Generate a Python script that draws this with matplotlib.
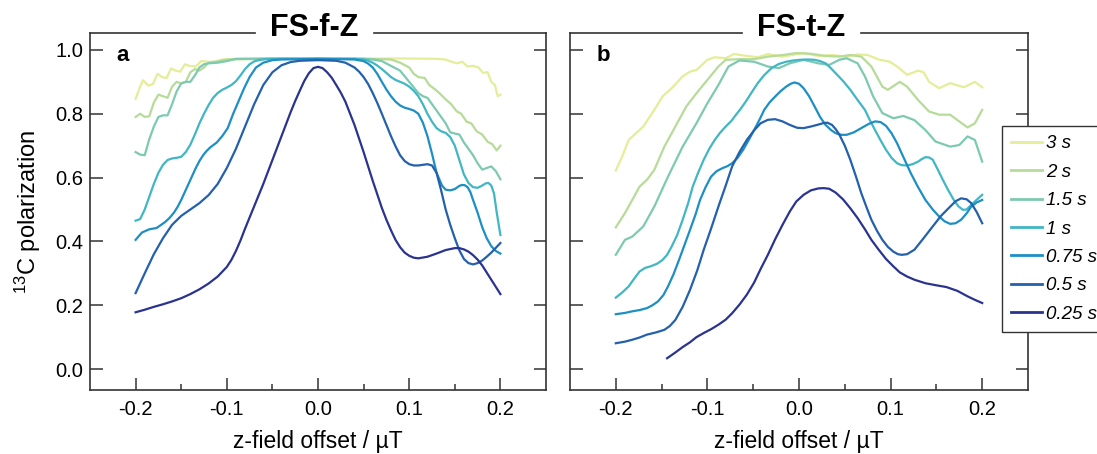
import matplotlib
matplotlib.use("Agg")
import matplotlib.pyplot as plt
from matplotlib.ticker import FixedLocator

plt.rcParams['font.family'] = ['Liberation Sans', 'DejaVu Sans']
plt.rcParams['mathtext.fontset'] = 'custom'
plt.rcParams['mathtext.rm'] = 'Liberation Sans'
plt.rcParams['mathtext.it'] = 'Liberation Sans:italic'
plt.rcParams['mathtext.bf'] = 'Liberation Sans:bold'

# ---------------- data ----------------
labels = ['3 s', '2 s', '1.5 s', '1 s', '0.75 s', '0.5 s', '0.25 s']
colors = ['#e5ed98', '#b7db98', '#7dcab0', '#41b6c4', '#1d8fc4', '#2460ab', '#2a348e']

# panel a : FS-f-Z
a_3s_x = [-0.2, -0.195, -0.192, -0.186, -0.181, -0.176, -0.171, -0.166, -0.161, -0.156, -0.151, -0.146, -0.141, -0.134, -0.128, -0.12, -0.112, -0.105, -0.09, -0.05, 0.0, 0.05, 0.1, 0.13, 0.14, 0.147, 0.153, 0.158, 0.164, 0.17, 0.176, 0.181, 0.186, 0.19, 0.194, 0.197, 0.2]
a_3s_y = [0.847, 0.885, 0.905, 0.888, 0.893, 0.925, 0.915, 0.912, 0.942, 0.935, 0.932, 0.955, 0.95, 0.948, 0.965, 0.963, 0.962, 0.97, 0.972, 0.973, 0.973, 0.973, 0.973, 0.972, 0.97, 0.962, 0.958, 0.963, 0.948, 0.95, 0.945, 0.928, 0.93, 0.9, 0.89, 0.855, 0.86]

a_2s_x = [-0.2, -0.195, -0.19, -0.185, -0.18, -0.175, -0.17, -0.165, -0.16, -0.155, -0.15, -0.145, -0.14, -0.135, -0.13, -0.125, -0.12, -0.11, -0.1, -0.05, 0.0, 0.05, 0.08, 0.09, 0.1, 0.105, 0.11, 0.117, 0.122, 0.129, 0.134, 0.14, 0.146, 0.152, 0.157, 0.163, 0.168, 0.174, 0.18, 0.186, 0.191, 0.196, 0.2]
a_2s_y = [0.79, 0.80, 0.79, 0.792, 0.835, 0.86, 0.855, 0.85, 0.885, 0.9, 0.895, 0.9, 0.93, 0.94, 0.935, 0.945, 0.96, 0.965, 0.97, 0.972, 0.973, 0.972, 0.97, 0.96, 0.945, 0.925, 0.915, 0.912, 0.89, 0.875, 0.862, 0.845, 0.83, 0.808, 0.8, 0.775, 0.77, 0.745, 0.735, 0.712, 0.705, 0.685, 0.70]

a_15s_x = [-0.2, -0.195, -0.19, -0.185, -0.18, -0.175, -0.17, -0.165, -0.16, -0.155, -0.15, -0.145, -0.14, -0.135, -0.13, -0.125, -0.12, -0.11, -0.1, -0.09, -0.05, 0.0, 0.05, 0.06, 0.07, 0.08, 0.09, 0.1, 0.11, 0.115, 0.12, 0.13, 0.14, 0.145, 0.15, 0.155, 0.16, 0.165, 0.17, 0.175, 0.18, 0.185, 0.19, 0.195, 0.2]
a_15s_y = [0.68, 0.672, 0.67, 0.72, 0.76, 0.79, 0.795, 0.795, 0.83, 0.87, 0.895, 0.9, 0.9, 0.92, 0.945, 0.955, 0.958, 0.96, 0.965, 0.972, 0.973, 0.973, 0.972, 0.97, 0.965, 0.95, 0.935, 0.9, 0.865, 0.855, 0.85, 0.81, 0.77, 0.742, 0.738, 0.735, 0.71, 0.69, 0.67, 0.645, 0.625, 0.63, 0.635, 0.62, 0.595]

a_1s_x = [-0.2, -0.195, -0.19, -0.185, -0.18, -0.175, -0.17, -0.165, -0.16, -0.155, -0.15, -0.145, -0.14, -0.135, -0.13, -0.125, -0.12, -0.115, -0.11, -0.105, -0.1, -0.095, -0.09, -0.085, -0.08, -0.075, -0.07, -0.065, -0.058, -0.05, 0.0, 0.04, 0.05, 0.055, 0.06, 0.065, 0.07, 0.075, 0.08, 0.085, 0.09, 0.095, 0.1, 0.105, 0.11, 0.115, 0.12, 0.125, 0.13, 0.135, 0.14, 0.145, 0.15, 0.155, 0.16, 0.165, 0.17, 0.175, 0.18, 0.184, 0.187, 0.19, 0.193, 0.196, 0.2]
a_1s_y = [0.465, 0.47, 0.5, 0.54, 0.58, 0.615, 0.64, 0.655, 0.66, 0.662, 0.665, 0.68, 0.703, 0.735, 0.77, 0.8, 0.827, 0.85, 0.865, 0.875, 0.882, 0.89, 0.902, 0.92, 0.94, 0.955, 0.964, 0.968, 0.971, 0.972, 0.972, 0.972, 0.97, 0.966, 0.96, 0.951, 0.94, 0.928, 0.915, 0.906, 0.9, 0.894, 0.885, 0.872, 0.855, 0.83, 0.8, 0.775, 0.755, 0.745, 0.74, 0.727, 0.7, 0.655, 0.61, 0.583, 0.57, 0.568, 0.575, 0.582, 0.583, 0.575, 0.55, 0.49, 0.42]

a_075s_x = [-0.2, -0.193, -0.185, -0.177, -0.168, -0.163, -0.158, -0.154, -0.15, -0.146, -0.142, -0.138, -0.134, -0.13, -0.126, -0.122, -0.118, -0.111, -0.105, -0.099, -0.093, -0.087, -0.081, -0.075, -0.068, -0.06, -0.05, -0.04, 0.0, 0.04, 0.05, 0.055, 0.06, 0.065, 0.07, 0.075, 0.08, 0.085, 0.09, 0.095, 0.1, 0.105, 0.11, 0.115, 0.12, 0.125, 0.13, 0.136, 0.14, 0.145, 0.15, 0.155, 0.158, 0.161, 0.164, 0.167, 0.17, 0.175, 0.18, 0.185, 0.19, 0.195, 0.2]
a_075s_y = [0.405, 0.428, 0.438, 0.442, 0.46, 0.473, 0.49, 0.508, 0.53, 0.555, 0.58, 0.605, 0.63, 0.652, 0.67, 0.684, 0.695, 0.71, 0.73, 0.755, 0.8, 0.84, 0.88, 0.915, 0.945, 0.96, 0.968, 0.97, 0.972, 0.97, 0.965, 0.957, 0.945, 0.925, 0.9, 0.876, 0.855, 0.838, 0.826, 0.819, 0.815, 0.81, 0.8, 0.772, 0.73, 0.675, 0.615, 0.575, 0.562, 0.56, 0.564, 0.574, 0.577, 0.576, 0.57, 0.555, 0.53, 0.49, 0.445, 0.41, 0.385, 0.37, 0.362]

a_05s_x = [-0.2, -0.19, -0.18, -0.17, -0.16, -0.15, -0.14, -0.13, -0.12, -0.11, -0.1, -0.09, -0.08, -0.07, -0.06, -0.05, -0.04, -0.03, -0.02, 0.0, 0.02, 0.03, 0.04, 0.045, 0.05, 0.055, 0.06, 0.065, 0.07, 0.075, 0.08, 0.085, 0.09, 0.095, 0.1, 0.105, 0.11, 0.115, 0.12, 0.125, 0.13, 0.135, 0.14, 0.145, 0.15, 0.155, 0.16, 0.165, 0.17, 0.175, 0.18, 0.185, 0.19, 0.195, 0.2]
a_05s_y = [0.238, 0.3, 0.36, 0.41, 0.452, 0.48, 0.5, 0.52, 0.545, 0.58, 0.63, 0.69, 0.76, 0.83, 0.89, 0.93, 0.952, 0.962, 0.966, 0.968, 0.966, 0.96, 0.945, 0.932, 0.915, 0.893, 0.865, 0.834, 0.8, 0.765, 0.73, 0.698, 0.67, 0.652, 0.642, 0.638, 0.638, 0.64, 0.642, 0.638, 0.615, 0.56, 0.5, 0.452, 0.41, 0.372, 0.345, 0.332, 0.328, 0.332, 0.34, 0.352, 0.365, 0.38, 0.395]

a_025s_x = [-0.2, -0.19, -0.18, -0.17, -0.16, -0.15, -0.14, -0.13, -0.12, -0.11, -0.1, -0.095, -0.09, -0.085, -0.08, -0.07, -0.06, -0.05, -0.04, -0.03, -0.025, -0.02, -0.015, -0.01, -0.005, 0.0, 0.005, 0.01, 0.015, 0.02, 0.025, 0.03, 0.04, 0.05, 0.06, 0.07, 0.075, 0.08, 0.085, 0.09, 0.095, 0.1, 0.105, 0.11, 0.12, 0.13, 0.14, 0.15, 0.155, 0.16, 0.165, 0.17, 0.175, 0.18, 0.19, 0.2]
a_025s_y = [0.178, 0.186, 0.195, 0.203, 0.212, 0.222, 0.235, 0.25, 0.268, 0.29, 0.32, 0.342, 0.37, 0.403, 0.44, 0.51, 0.58, 0.655, 0.73, 0.805, 0.84, 0.872, 0.903, 0.927, 0.943, 0.947, 0.943, 0.93, 0.913, 0.89, 0.866, 0.838, 0.765, 0.68, 0.59, 0.505, 0.468, 0.435, 0.405, 0.382, 0.365, 0.355, 0.349, 0.347, 0.352, 0.362, 0.373, 0.379, 0.379, 0.375, 0.368, 0.357, 0.343, 0.325, 0.28, 0.235]

# panel b : FS-t-Z
b_3s_x = [-0.2, -0.193, -0.186, -0.178, -0.17, -0.158, -0.149, -0.139, -0.127, -0.119, -0.112, -0.1, -0.092, -0.08, -0.071, -0.059, -0.045, -0.034, -0.018, 0.005, 0.021, 0.036, 0.052, 0.064, 0.075, 0.087, 0.099, 0.107, 0.118, 0.13, 0.136, 0.142, 0.153, 0.165, 0.18, 0.192, 0.2]
b_3s_y = [0.622, 0.666, 0.718, 0.739, 0.76, 0.812, 0.854, 0.88, 0.917, 0.932, 0.937, 0.969, 0.977, 0.974, 0.987, 0.982, 0.977, 0.987, 0.979, 0.99, 0.981, 0.984, 0.979, 0.986, 0.984, 0.97, 0.963, 0.948, 0.922, 0.935, 0.93, 0.9, 0.88, 0.896, 0.883, 0.9, 0.883]

b_2s_x = [-0.2, -0.19, -0.182, -0.174, -0.166, -0.158, -0.147, -0.135, -0.123, -0.112, -0.1, -0.088, -0.08, -0.065, -0.049, -0.034, -0.018, -0.003, 0.013, 0.029, 0.044, 0.056, 0.068, 0.079, 0.091, 0.097, 0.11, 0.118, 0.13, 0.142, 0.153, 0.165, 0.173, 0.184, 0.192, 0.2]
b_2s_y = [0.444, 0.489, 0.53, 0.572, 0.593, 0.624, 0.697, 0.76, 0.823, 0.864, 0.906, 0.948, 0.969, 0.971, 0.971, 0.979, 0.984, 0.99, 0.988, 0.981, 0.979, 0.984, 0.979, 0.948, 0.885, 0.875, 0.9, 0.885, 0.843, 0.807, 0.797, 0.797, 0.78, 0.757, 0.77, 0.812]

b_15s_x = [-0.2, -0.19, -0.182, -0.17, -0.158, -0.143, -0.127, -0.112, -0.1, -0.088, -0.077, -0.065, -0.049, -0.034, -0.022, -0.01, 0.005, 0.021, 0.033, 0.044, 0.052, 0.064, 0.072, 0.081, 0.091, 0.103, 0.114, 0.126, 0.138, 0.149, 0.165, 0.175, 0.184, 0.192, 0.2]
b_15s_y = [0.358, 0.405, 0.415, 0.447, 0.509, 0.603, 0.697, 0.77, 0.833, 0.89, 0.948, 0.967, 0.963, 0.948, 0.943, 0.958, 0.969, 0.958, 0.953, 0.969, 0.974, 0.958, 0.917, 0.854, 0.802, 0.786, 0.793, 0.78, 0.749, 0.713, 0.697, 0.702, 0.729, 0.718, 0.65]

b_1s_x = [-0.2, -0.193, -0.186, -0.18, -0.174, -0.168, -0.162, -0.155, -0.149, -0.144, -0.139, -0.133, -0.127, -0.121, -0.116, -0.11, -0.104, -0.098, -0.092, -0.086, -0.08, -0.074, -0.069, -0.063, -0.057, -0.051, -0.045, -0.038, -0.03, -0.022, -0.014, -0.006, 0.001, 0.009, 0.017, 0.023, 0.029, 0.034, 0.04, 0.048, 0.056, 0.064, 0.072, 0.077, 0.083, 0.089, 0.095, 0.101, 0.107, 0.112, 0.118, 0.124, 0.13, 0.134, 0.138, 0.142, 0.146, 0.151, 0.157, 0.163, 0.169, 0.174, 0.179, 0.183, 0.186, 0.193, 0.2]
b_1s_y = [0.224, 0.24, 0.259, 0.283, 0.306, 0.317, 0.322, 0.33, 0.342, 0.358, 0.384, 0.42, 0.468, 0.52, 0.572, 0.616, 0.656, 0.69, 0.718, 0.741, 0.76, 0.777, 0.796, 0.818, 0.843, 0.87, 0.896, 0.921, 0.943, 0.956, 0.963, 0.967, 0.969, 0.97, 0.969, 0.965, 0.958, 0.945, 0.927, 0.903, 0.875, 0.843, 0.812, 0.782, 0.749, 0.717, 0.687, 0.662, 0.645, 0.639, 0.638, 0.642, 0.65, 0.658, 0.664, 0.663, 0.656, 0.628, 0.593, 0.56, 0.53, 0.51, 0.499, 0.5, 0.509, 0.528, 0.546]

b_075s_x = [-0.2, -0.19, -0.182, -0.174, -0.166, -0.16, -0.154, -0.148, -0.143, -0.137, -0.131, -0.125, -0.119, -0.113, -0.108, -0.102, -0.096, -0.09, -0.084, -0.078, -0.073, -0.067, -0.061, -0.055, -0.049, -0.043, -0.038, -0.032, -0.026, -0.02, -0.014, -0.009, -0.005, 0.0, 0.005, 0.011, 0.017, 0.023, 0.029, 0.035, 0.04, 0.046, 0.052, 0.06, 0.068, 0.076, 0.083, 0.089, 0.095, 0.101, 0.107, 0.114, 0.122, 0.13, 0.138, 0.146, 0.153, 0.159, 0.165, 0.171, 0.177, 0.183, 0.188, 0.194, 0.2]
b_075s_y = [0.172, 0.176, 0.181, 0.185, 0.191, 0.2, 0.212, 0.232, 0.259, 0.297, 0.342, 0.389, 0.436, 0.484, 0.53, 0.57, 0.603, 0.62, 0.629, 0.636, 0.645, 0.662, 0.687, 0.717, 0.749, 0.782, 0.812, 0.836, 0.854, 0.871, 0.885, 0.894, 0.898, 0.894, 0.88, 0.855, 0.823, 0.79, 0.765, 0.749, 0.739, 0.734, 0.734, 0.742, 0.755, 0.768, 0.776, 0.774, 0.762, 0.739, 0.708, 0.664, 0.614, 0.57, 0.53, 0.5, 0.478, 0.463, 0.455, 0.457, 0.468, 0.488, 0.509, 0.522, 0.53]

b_05s_x = [-0.2, -0.19, -0.182, -0.174, -0.166, -0.156, -0.147, -0.141, -0.135, -0.127, -0.119, -0.111, -0.104, -0.096, -0.088, -0.08, -0.073, -0.065, -0.057, -0.049, -0.042, -0.034, -0.026, -0.018, -0.01, -0.002, 0.005, 0.013, 0.021, 0.027, 0.031, 0.036, 0.04, 0.044, 0.05, 0.056, 0.062, 0.068, 0.074, 0.079, 0.085, 0.091, 0.097, 0.103, 0.108, 0.112, 0.118, 0.126, 0.136, 0.146, 0.155, 0.165, 0.171, 0.177, 0.183, 0.188, 0.194, 0.2]
b_05s_y = [0.081, 0.086, 0.092, 0.099, 0.108, 0.115, 0.123, 0.135, 0.154, 0.195, 0.248, 0.31, 0.374, 0.44, 0.509, 0.575, 0.635, 0.68, 0.718, 0.748, 0.77, 0.781, 0.783, 0.776, 0.765, 0.756, 0.755, 0.76, 0.766, 0.771, 0.772, 0.765, 0.752, 0.735, 0.7, 0.656, 0.605, 0.551, 0.505, 0.468, 0.434, 0.405, 0.383, 0.368, 0.36, 0.358, 0.36, 0.374, 0.41, 0.447, 0.48, 0.509, 0.526, 0.535, 0.532, 0.52, 0.492, 0.457]

b_025s_x = [-0.144, -0.135, -0.127, -0.119, -0.112, -0.104, -0.096, -0.088, -0.08, -0.073, -0.065, -0.057, -0.049, -0.042, -0.034, -0.026, -0.018, -0.01, -0.003, 0.005, 0.013, 0.021, 0.027, 0.033, 0.04, 0.048, 0.056, 0.064, 0.072, 0.079, 0.087, 0.095, 0.103, 0.11, 0.118, 0.126, 0.138, 0.149, 0.161, 0.173, 0.184, 0.192, 0.2]
b_025s_y = [0.034, 0.052, 0.069, 0.084, 0.1, 0.113, 0.125, 0.139, 0.155, 0.175, 0.202, 0.233, 0.271, 0.313, 0.358, 0.407, 0.452, 0.494, 0.525, 0.546, 0.56, 0.566, 0.567, 0.565, 0.553, 0.532, 0.504, 0.473, 0.438, 0.405, 0.374, 0.345, 0.322, 0.303, 0.29, 0.28, 0.269, 0.263, 0.257, 0.245, 0.228, 0.217, 0.207]

panel_a = [(a_3s_x, a_3s_y), (a_2s_x, a_2s_y), (a_15s_x, a_15s_y), (a_1s_x, a_1s_y),
           (a_075s_x, a_075s_y), (a_05s_x, a_05s_y), (a_025s_x, a_025s_y)]
panel_b = [(b_3s_x, b_3s_y), (b_2s_x, b_2s_y), (b_15s_x, b_15s_y), (b_1s_x, b_1s_y),
           (b_075s_x, b_075s_y), (b_05s_x, b_05s_y), (b_025s_x, b_025s_y)]

x_major = [-0.2, -0.1, 0.0, 0.1, 0.2]
x_minor = [-0.15, -0.05, 0.05, 0.15]
y_major = [0.0, 0.2, 0.4, 0.6, 0.8, 1.0]
x_ticklabels = ['-0.2', '-0.1', '0.0', '0.1', '0.2']
y_ticklabels = ['0.0', '0.2', '0.4', '0.6', '0.8', '1.0']

# ---------------- figure ----------------
W, H = 1097, 454
fig = plt.figure(figsize=(W / 100, H / 100), dpi=100)

def px_axes(x0, x1, y0, y1):
    return fig.add_axes([x0 / W, 1 - y1 / H, (x1 - x0) / W, (y1 - y0) / H])

axa = px_axes(90, 546, 33, 390)
axb = px_axes(570, 1028, 33, 390)

spine_col = '#333333'
spine_lw = 1.2
handles = []
panels = [(axa, panel_a, 'FS-f-Z', 'a', (0.362, 0.622)),
          (axb, panel_b, 'FS-t-Z', 'b', (0.375, 0.636))]
for ax, data, title, letter, gap in panels:
    hs = []
    for (xs, ys), c, lab in zip(data, colors, labels):
        h, = ax.plot(xs, ys, color=c, lw=1.6, label=lab, solid_joinstyle='round')
        hs.append(h)
    handles = hs
    ax.set_xlim(-0.25, 0.25)
    ax.set_ylim(-0.0655, 1.053)
    ax.xaxis.set_major_locator(FixedLocator(x_major))
    ax.xaxis.set_minor_locator(FixedLocator(x_minor))
    ax.yaxis.set_major_locator(FixedLocator(y_major))
    ax.set_xticklabels(x_ticklabels)
    ax.tick_params(axis='x', which='major', direction='in', length=9, width=1.1,
                   color=spine_col, labelsize=14.5, pad=7, top=False)
    ax.tick_params(axis='x', which='minor', direction='in', length=4.5, width=1.1,
                   color=spine_col, top=False)
    ax.tick_params(axis='y', which='major', direction='in', length=9, width=1.1,
                   color=spine_col, labelsize=14.5, pad=5, left=True, right=True)
    for s in ax.spines.values():
        s.set_color(spine_col)
        s.set_linewidth(spine_lw)
    # top spine broken by the title
    ax.spines['top'].set_visible(False)
    for xa, xb in [(0.0, gap[0]), (gap[1], 1.0)]:
        ax.plot([xa, xb], [1, 1], transform=ax.transAxes, color=spine_col, lw=spine_lw,
                clip_on=False, solid_capstyle='projecting', zorder=3)
    ax.set_xlabel('z-field offset / µT', fontsize=16.5, labelpad=8)
    ax.text((gap[0] + gap[1]) / 2, 0.9916, title, transform=ax.transAxes, ha='center',
            va='baseline', fontsize=22, fontweight='bold', zorder=10, clip_on=False)
    ax.text(0.057, 0.922, letter, transform=ax.transAxes, ha='left', va='baseline',
            fontsize=16, fontweight='bold')

axa.set_yticklabels(y_ticklabels)
axa.set_ylabel('$^{13}$C polarization', fontsize=17, labelpad=9)
axb.set_yticklabels([])

leg = fig.legend(handles, labels, loc='upper left', bbox_to_anchor=(1002 / W, 1 - 126 / H),
                 frameon=True, fancybox=False, framealpha=1, edgecolor=spine_col,
                 prop={'style': 'italic', 'size': 13.5}, handlelength=1.65,
                 handletextpad=0.2, borderpad=0.5, labelspacing=0.6, borderaxespad=0)
leg.get_frame().set_linewidth(1.0)
for l in leg.get_lines():
    l.set_linewidth(2.0)

fig.savefig('out.png', dpi=100)
